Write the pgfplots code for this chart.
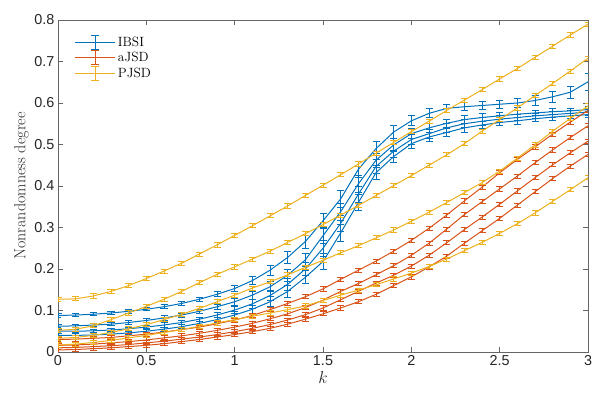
\documentclass[border=0pt]{standalone}
\usepackage{fontspec}
\usepackage{pgfplots}
\usepackage{pgfplotstable}
\pgfplotsset{compat=1.18}
\newfontfamily\ticksf{Liberation Sans}
\definecolor{mblue}{RGB}{0,114,189}
\definecolor{morange}{RGB}{217,83,25}
\definecolor{myellow}{RGB}{237,177,32}
\definecolor{axgray}{RGB}{38,38,38}

% IBSI: four curves, errors e1 for the top one, e for the others
\pgfplotstableread{
x   b1   e1   b2   b3   b4   e
0   .088 .004 .062 .050 .040 .004
0.1 .089 .004 .063 .050 .040 .004
0.2 .091 .004 .065 .051 .041 .004
0.3 .094 .004 .067 .053 .043 .004
0.4 .098 .004 .071 .056 .046 .004
0.5 .103 .004 .076 .060 .050 .004
0.6 .109 .005 .082 .065 .055 .005
0.7 .117 .005 .089 .071 .061 .005
0.8 .127 .005 .098 .079 .069 .005
0.9 .139 .006 .109 .089 .078 .006
1.0 .153 .008 .121 .101 .089 .008
1.1 .172 .010 .137 .116 .103 .010
1.2 .197 .012 .157 .136 .121 .012
1.3 .228 .014 .185 .163 .146 .014
1.4 .266 .016 .222 .200 .180 .016
1.5 .316 .019 .280 .250 .218 .019
1.6 .369 .020 .338 .310 .287 .020
1.7 .440 .020 .405 .380 .360 .020
1.8 .490 .017 .462 .447 .432 .017
1.9 .530 .015 .499 .484 .471 .015
2.0 .557 .012 .526 .512 .502 .012
2.1 .575 .011 .540 .526 .518 .011
2.2 .587 .010 .551 .540 .529 .010
2.3 .591 .010 .560 .550 .540 .010
2.4 .594 .010 .565 .556 .547 .009
2.5 .597 .010 .569 .561 .553 .008
2.6 .600 .011 .573 .565 .557 .008
2.7 .606 .012 .576 .569 .562 .007
2.8 .615 .013 .579 .572 .566 .007
2.9 .626 .015 .581 .575 .569 .007
3.0 .651 .020 .584 .578 .572 .007
}\ibsi

% aJSD
\pgfplotstableread{
x   o1   o2   o3   o4
0   .030 .016 .010 .005
0.1 .031 .017 .011 .006
0.2 .033 .019 .013 .008
0.3 .035 .022 .015 .010
0.4 .039 .025 .018 .013
0.5 .043 .029 .022 .016
0.6 .048 .034 .026 .020
0.7 .054 .039 .031 .025
0.8 .060 .045 .036 .030
0.9 .068 .052 .042 .036
1.0 .077 .060 .049 .042
1.1 .088 .069 .057 .049
1.2 .102 .080 .066 .057
1.3 .117 .092 .077 .067
1.4 .133 .107 .090 .079
1.5 .152 .125 .106 .092
1.6 .175 .146 .126 .106
1.7 .197 .165 .146 .121
1.8 .219 .186 .166 .139
1.9 .243 .208 .185 .160
2.0 .269 .233 .207 .181
2.1 .298 .262 .233 .205
2.2 .330 .296 .263 .231
2.3 .364 .331 .295 .262
2.4 .397 .362 .325 .292
2.5 .432 .393 .356 .322
2.6 .464 .424 .388 .354
2.7 .494 .456 .420 .386
2.8 .525 .487 .451 .418
2.9 .554 .517 .480 .448
3.0 .582 .545 .508 .476
}\ajsd

% PJSD
\pgfplotstableread{
x   p1   p2   p3   p4
0   .127 .052 .033 .017
0.1 .128 .055 .035 .019
0.2 .135 .063 .040 .023
0.3 .146 .078 .047 .028
0.4 .160 .094 .056 .034
0.5 .177 .110 .066 .040
0.6 .195 .127 .078 .047
0.7 .214 .146 .091 .054
0.8 .236 .167 .105 .062
0.9 .258 .187 .121 .070
1.0 .281 .205 .137 .078
1.1 .304 .224 .154 .086
1.2 .328 .243 .169 .094
1.3 .352 .264 .186 .102
1.4 .377 .285 .204 .111
1.5 .402 .307 .221 .124
1.6 .427 .330 .239 .137
1.7 .453 .353 .256 .149
1.8 .479 .377 .275 .162
1.9 .505 .401 .294 .176
2.0 .531 .425 .315 .190
2.1 .556 .450 .337 .206
2.2 .582 .475 .360 .224
2.3 .607 .502 .384 .244
2.4 .632 .532 .408 .264
2.5 .658 .560 .436 .286
2.6 .683 .588 .467 .309
2.7 .710 .618 .499 .335
2.8 .737 .647 .532 .363
2.9 .764 .677 .563 .391
3.0 .790 .708 .593 .420
}\pjsd

\begin{document}
\begin{tikzpicture}
\begin{axis}[
  scale only axis, width=530bp, height=332bp,
  xmin=0, xmax=3, ymin=0, ymax=0.8,
  xtick={0,0.5,...,3}, ytick={0,0.1,...,0.8},
  yticklabel style={/pgf/number format/.cd,fixed,precision=1},
  tick align=inside, tick pos=both,
  major tick length=5bp,
  axis line style={black!60, line width=0.6bp},
  every tick/.style={black!60, line width=0.6bp},
  /pgf/number format/assume math mode=true,
  tick label style={font=\ticksf\fontsize{14.4bp}{16bp}\selectfont, text=axgray},
  xlabel={$k$}, ylabel={Nonrandomness degree},
  label style={font=\fontsize{16bp}{18bp}\selectfont, text=axgray},
  xlabel style={yshift=1bp},
  ylabel style={yshift=-1bp},
  legend style={draw=none, fill=none, at={(0.026,0.962)}, anchor=north west,
    font=\fontsize{13.4bp}{15bp}\selectfont, row sep=0.5bp},
  legend cell align=left,
  legend image code/.code={
    \draw[#1] (0bp,0bp) -- (40bp,0bp);
    \draw[#1] (20bp,-7bp) -- (20bp,7bp);
    \draw[#1] (16bp,-7bp) -- (24bp,-7bp);
    \draw[#1] (16bp,7bp) -- (24bp,7bp);
  },
  every axis plot/.append style={line width=1bp, mark=none},
  error bars/y dir=both,
  error bars/error bar style={line width=0.9bp},
  error bars/error mark options={line width=0.9bp, mark size=3.5bp, rotate=90},
]
% IBSI
\addplot[mblue, error bars/y explicit] table[x=x, y=b1, y error=e1]{\ibsi};
\addlegendentry{IBSI}
\addplot[mblue, forget plot, error bars/y explicit] table[x=x, y=b2, y error=e]{\ibsi};
\addplot[mblue, forget plot, error bars/y explicit] table[x=x, y=b3, y error=e]{\ibsi};
\addplot[mblue, forget plot, error bars/y explicit] table[x=x, y=b4, y error=e]{\ibsi};
% aJSD
\addplot[morange, error bars/y fixed=0.005] table[x=x, y=o1]{\ajsd};
\addlegendentry{aJSD}
\addplot[morange, forget plot, error bars/y fixed=0.005] table[x=x, y=o2]{\ajsd};
\addplot[morange, forget plot, error bars/y fixed=0.005] table[x=x, y=o3]{\ajsd};
\addplot[morange, forget plot, error bars/y fixed=0.005] table[x=x, y=o4]{\ajsd};
% PJSD
\addplot[myellow, error bars/y fixed=0.005] table[x=x, y=p1]{\pjsd};
\addlegendentry{PJSD}
\addplot[myellow, forget plot, error bars/y fixed=0.005] table[x=x, y=p2]{\pjsd};
\addplot[myellow, forget plot, error bars/y fixed=0.005] table[x=x, y=p3]{\pjsd};
\addplot[myellow, forget plot, error bars/y fixed=0.005] table[x=x, y=p4]{\pjsd};
\end{axis}
\pgfresetboundingbox
\path ([xshift=-58bp,yshift=-41bp]current axis.south west) rectangle ([xshift=10bp,yshift=20bp]current axis.north east);
\end{tikzpicture}
\end{document}
